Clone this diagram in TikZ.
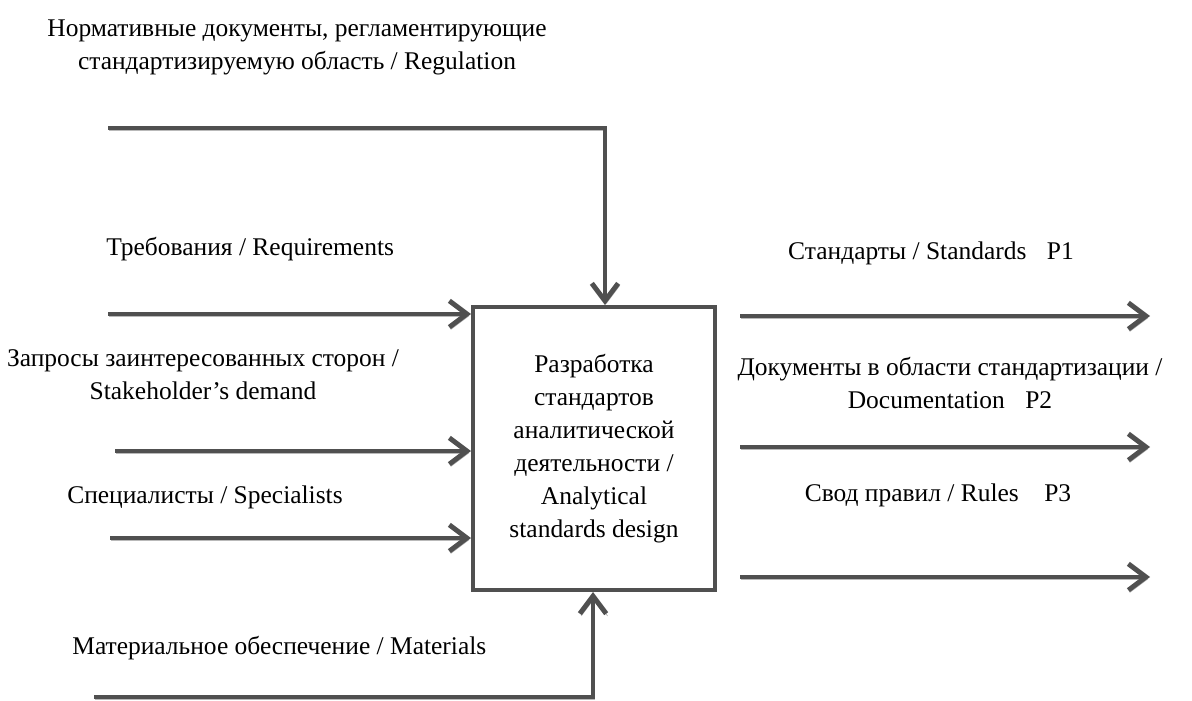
\documentclass[tikz,border=0pt]{standalone}
\usepackage{fontspec}
\setmainfont{Liberation Serif}
\usetikzlibrary{arrows.meta}
\definecolor{flowgray}{RGB}{80,80,80}
\tikzset{
  flow/.style={line width=2.8pt, draw=flowgray,
    -{Straight Barb[length=10pt,width=15pt]},
    preaction={draw=gray!55, transform canvas={shift={(0.8pt,-1.3pt)}}}},
  lbl/.style={font=\fontsize{14.5pt}{18.7pt}\selectfont, inner sep=0pt, align=center},
}

\begin{document}
\begin{tikzpicture}[x=0.02cm, y=-0.02cm]
			%%%%% START %%%%%
			\useasboundingbox (0, 0) rectangle (1192, 700);
			
			\node[draw=flowgray, line width=2.3pt, minimum width=4.84cm, minimum height=5.66cm,
				lbl] (act) at (594, 448.5) {Разработка\\стандартов\\аналитической\\деятельности /\\Analytical\\standards design};
			
			% control
			\coordinate (regin) at (108, 128);
			\coordinate (regbend) at (605, 128);
			\draw[flow] (regin) -- (regbend) -- (regbend |- act.north);
			\node[lbl] (reglbl) at (297, 47) {Нормативные документы, регламентирующие\\стандартизируемую область / Regulation};
			
			% inputs
			\coordinate (reqin) at (108, 314);
			\draw[flow] (reqin) -- (reqin -| act.west);
			\node[lbl, anchor=west] (reqlbl) at (106, 249) {Требования / Requirements};
			
			\coordinate (stkin) at (115, 451);
			\draw[flow] (stkin) -- (stkin -| act.west);
			\node[lbl] (stklbl) at (203, 375) {Запросы заинтересованных сторон /\\Stakeholder’s demand};
			
			\coordinate (spcin) at (110, 538);
			\draw[flow] (spcin) -- (spcin -| act.west);
			\node[lbl] (spclbl) at (205, 497) {Специалисты / Specialists};
			
			% mechanism
			\coordinate (matin) at (94, 697);
			\coordinate (matbend) at (593, 697);
			\draw[flow] (matin) -- (matbend) -- (matbend |- act.south);
			\node[lbl, anchor=west] (matlbl) at (72, 648) {Материальное обеспечение / Materials};
			
			% outputs
			\coordinate (p1out) at (1150, 316);
			\draw[flow] (act.east |- p1out) ++(23, 0) -- (p1out);
			\node[lbl] (p1lbl) at (931, 253) {Стандарты / Standards\hspace{0.8em}P1};
			
			\coordinate (p2out) at (1150, 447);
			\draw[flow] (act.east |- p2out) ++(23, 0) -- (p2out);
			\node[lbl] (p2lbl) at (950, 383) {Документы в области стандартизации /\\Documentation\hspace{0.8em}P2};
			
			\coordinate (p3out) at (1150, 577);
			\draw[flow] (act.east |- p3out) ++(23, 0) -- (p3out);
			\node[lbl] (p3lbl) at (938, 495) {Свод правил / Rules\hspace{1em}P3};
			
			%%%%% END %%%%%
\end{tikzpicture}
\end{document}
